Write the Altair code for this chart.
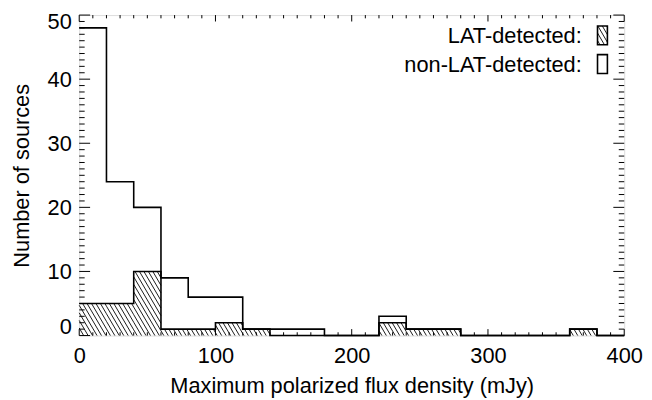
import altair as alt
import pandas as pd
import numpy as np

# ---------------- data ----------------
bin_edges = list(range(0, 420, 20))
lat_counts = [5, 5, 10, 1, 1, 2, 1, 0, 0, 0, 0, 2, 1, 1, 0, 0, 0, 0, 1, 0]
nonlat_counts = [48, 24, 20, 9, 6, 6, 1, 1, 1, 0, 0, 3, 1, 1, 0, 0, 0, 0, 1, 0]
x_major = [0, 100, 200, 300, 400]
x_minor = [v for v in range(0, 401, 10) if v % 100]
y_major = [0, 10, 20, 30, 40, 50]
y_minor = [v for v in range(0, 51) if v % 10]
x_title = "Maximum polarized flux density (mJy)"
y_title = "Number of sources"
legend_labels = ["LAT-detected:", "non-LAT-detected:"]

# ---------------- layout ----------------
W, H = 551, 324
XMAX, YMAX = 400, 50
PX_X = W / XMAX
PX_Y = H / YMAX
SPACING = 4.5
SLOPE = 1.7
FONT = "Liberation Sans"
FS = 22
LW = 1.6


def hatch(u0, u1, h):
    segs = []
    if h <= 0:
        return segs
    k0 = int(np.floor(u0 / SPACING))
    k1 = int(np.ceil((u1 + h / SLOPE) / SPACING))
    for k in range(k0, k1 + 1):
        c = k * SPACING
        ua = max(u0, c - h / SLOPE)
        ub = min(u1, c)
        if ub - ua > 0.05:
            segs.append((ua, SLOPE * (c - ua), ub, SLOPE * (c - ub)))
    return segs


rows = []
for i, n in enumerate(lat_counts):
    for ua, va, ub, vb in hatch(bin_edges[i] * PX_X, bin_edges[i + 1] * PX_X, n * PX_Y):
        rows.append({"x": ua / PX_X, "y": va / PX_Y, "x2": ub / PX_X, "y2": vb / PX_Y})
hatch_df = pd.DataFrame(rows)

lat_df = pd.DataFrame({"x": bin_edges, "y": lat_counts + [lat_counts[-1]]})
non_df = pd.DataFrame({"x": bin_edges, "y": nonlat_counts + [nonlat_counts[-1]]})

xs = alt.Scale(domain=[0, XMAX], nice=False, zero=False)
ys = alt.Scale(domain=[0, YMAX], nice=False, zero=False)

axis_common = dict(ticks=False, domain=False, grid=False, labelFont=FONT, titleFont=FONT,
                   labelFontSize=FS, titleFontSize=FS, labelColor="black", titleColor="black",
                   titleFontWeight="normal")

base_hatch = alt.Chart(hatch_df).mark_rule(color="black", strokeWidth=0.9).encode(
    x=alt.X("x:Q", scale=xs, axis=alt.Axis(values=x_major, title=x_title, labelPadding=10,
                                           titlePadding=10, labelFlush=False, **axis_common)),
    y=alt.Y("y:Q", scale=ys, axis=alt.Axis(values=y_major, title=y_title, labelPadding=8,
                                           titlePadding=14, labelFlush=True, labelFlushOffset=3,
                                           **axis_common)),
    x2="x2:Q", y2="y2:Q",
)

lat_line = alt.Chart(lat_df).mark_line(interpolate="step-after", color="black", strokeWidth=LW).encode(
    x=alt.X("x:Q", scale=xs), y=alt.Y("y:Q", scale=ys))
non_line = alt.Chart(non_df).mark_line(interpolate="step-after", color="black", strokeWidth=LW).encode(
    x=alt.X("x:Q", scale=xs), y=alt.Y("y:Q", scale=ys))

# ticks (IDL style, inward on all four sides)
XMAJ_LEN, XMIN_LEN = 6.5, 3.3
YMAJ_LEN, YMIN_LEN = 11, 5.5


def xticks(vals, length):
    d = pd.DataFrame({"t": vals})
    bot = alt.Chart(d).mark_rule(color="black", strokeWidth=1).encode(
        x=alt.X("t:Q", scale=xs), y=alt.value(H), y2=alt.value(H - length))
    top = alt.Chart(d).mark_rule(color="black", strokeWidth=1).encode(
        x=alt.X("t:Q", scale=xs), y=alt.value(0), y2=alt.value(length))
    return [bot, top]


def yticks(vals, length):
    d = pd.DataFrame({"t": vals})
    left = alt.Chart(d).mark_rule(color="black", strokeWidth=1).encode(
        y=alt.Y("t:Q", scale=ys), x=alt.value(0), x2=alt.value(length))
    right = alt.Chart(d).mark_rule(color="black", strokeWidth=1).encode(
        y=alt.Y("t:Q", scale=ys), x=alt.value(W), x2=alt.value(W - length))
    return [left, right]


tick_layers = xticks(x_major, XMAJ_LEN) + xticks(x_minor, XMIN_LEN) + \
    yticks(y_major, YMAJ_LEN) + yticks(y_minor, YMIN_LEN)

# legend
LX0, LX1 = 524, 534
L1T, L1B = 11, 30
L2T, L2B = 40, 59
TX = 508
one = alt.Data(values=[{}])

leg_rows = []
for ua, va, ub, vb in hatch(LX0, LX1, L1B - L1T):
    leg_rows.append({"u": ua, "v": L1B - va, "u2": ub, "v2": L1B - vb})
leg_hatch = alt.Chart(pd.DataFrame(leg_rows)).mark_rule(color="black", strokeWidth=0.9).encode(
    x=alt.X("u:Q", scale=None), y=alt.Y("v:Q", scale=None), x2="u2:Q", y2="v2:Q")

box1 = alt.Chart(one).mark_rect(fill="transparent", stroke="black", strokeWidth=LW).encode(
    x=alt.value(LX0), x2=alt.value(LX1), y=alt.value(L1T), y2=alt.value(L1B))
box2 = alt.Chart(one).mark_rect(fill="transparent", stroke="black", strokeWidth=LW).encode(
    x=alt.value(LX0), x2=alt.value(LX1), y=alt.value(L2T), y2=alt.value(L2B))

txt_kw = dict(font=FONT, fontSize=FS, color="black", align="right", baseline="middle")
t1 = alt.Chart(one).mark_text(text=legend_labels[0], **txt_kw).encode(
    x=alt.value(TX), y=alt.value((L1T + L1B) / 2 + 1))
t2 = alt.Chart(one).mark_text(text=legend_labels[1], **txt_kw).encode(
    x=alt.value(TX), y=alt.value((L2T + L2B) / 2 + 1))

chart = alt.layer(base_hatch, lat_line, non_line, *tick_layers, leg_hatch, box1, box2, t1, t2).properties(
    width=W, height=H,
    padding={"left": 72, "top": 5, "right": 20, "bottom": 61},
    autosize=alt.AutoSizeParams(type="none"),
).configure_view(stroke="black", strokeWidth=LW).configure(background="white")

chart.save("out.html", embed_options={"renderer": "svg", "actions": False})
